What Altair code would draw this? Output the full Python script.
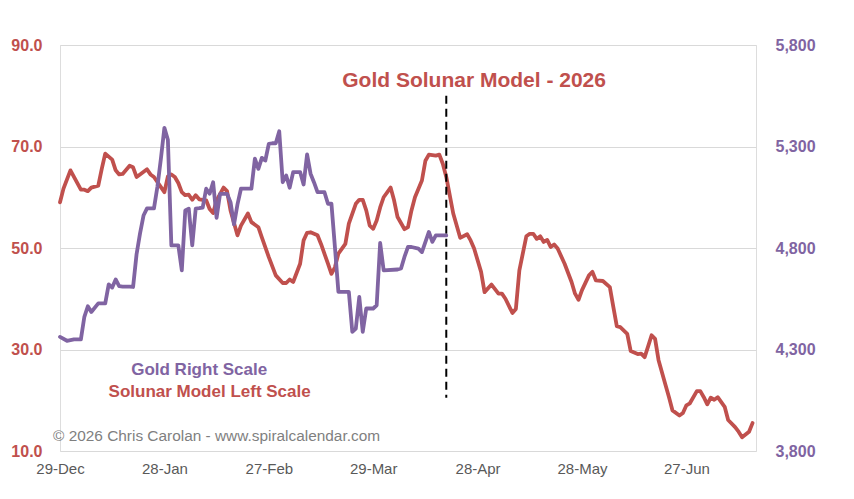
import altair as alt
import pandas as pd

RED = "#C0504D"
PURPLE = "#8064A2"
FONT = "Liberation Sans"

START = "2025-12-29"
END = "2026-07-17"

# Solunar model (left scale): day offset from START, value
solunar_day = [0, 1, 3, 6, 7, 8, 9, 11, 12, 13,
               15, 16, 17, 18, 20, 21, 22, 23, 25, 26,
               27, 29, 30, 31, 32, 33, 34, 35, 36, 37,
               38, 39, 40, 42, 43, 44, 45, 47, 48, 49,
               51, 52, 54, 55, 57, 58, 60, 62, 64, 65,
               66, 67, 69, 70, 71, 72, 74, 75, 77, 78,
               79, 80, 82, 83, 85, 86, 87, 88, 89, 90,
               91, 92, 93, 95, 96, 97, 99, 100, 101, 102,
               104, 105, 106, 108, 109, 110, 111, 113, 115, 117,
               118, 119, 121, 122, 124, 126, 127, 128, 130, 131,
               132, 134, 135, 136, 137, 138, 139, 140, 141, 142,
               143, 145, 147, 148, 149, 150, 152, 153, 154, 156,
               158, 159, 160, 161, 163, 164, 166, 167, 168, 169,
               170, 171, 172, 174, 175, 176, 178, 179, 180, 181,
               183, 184, 185, 186, 187, 188, 189, 191, 192, 194,
               195, 196, 198, 199]
solunar_value = [59.0, 61.7, 65.3, 61.5, 61.5, 61.2, 61.9, 62.3, 65.6, 68.6,
                 67.4, 65.3, 64.5, 64.6, 66.2, 65.9, 64.0, 64.5, 65.5, 64.5,
                 64.0, 62.0, 61.0, 64.1, 64.5, 64.0, 62.8, 61.0, 60.4, 60.5,
                 59.5, 60.4, 59.6, 59.4, 57.7, 56.9, 59.4, 61.9, 61.2, 57.4,
                 52.5, 54.4, 56.8, 55.1, 54.1, 52.1, 48.2, 44.6, 43.1, 43.1,
                 43.8, 43.3, 46.9, 51.5, 53.0, 53.1, 52.5, 50.8, 46.9, 44.9,
                 46.2, 48.9, 50.8, 54.8, 58.7, 59.5, 59.5, 57.4, 54.4, 53.8,
                 55.4, 58.0, 60.0, 61.9, 59.4, 56.1, 53.7, 54.1, 57.4, 60.0,
                 63.3, 67.2, 68.4, 68.2, 68.4, 66.6, 64.0, 56.8, 52.0, 52.7,
                 51.5, 49.9, 45.3, 41.3, 42.8, 41.0, 41.0, 40.0, 37.2, 38.0,
                 45.6, 52.3, 52.8, 52.8, 51.8, 52.3, 51.2, 51.6, 50.2, 50.7,
                 49.9, 46.9, 43.3, 41.0, 39.8, 41.7, 44.6, 45.3, 43.6, 43.5,
                 42.3, 38.4, 34.6, 34.4, 33.1, 29.7, 29.1, 29.2, 28.5, 30.6,
                 32.8, 32.1, 27.9, 23.0, 20.6, 18.0, 17.0, 17.5, 19.0, 19.4,
                 21.8, 21.8, 20.6, 19.2, 20.5, 20.1, 20.6, 18.7, 16.1, 14.7,
                 13.8, 12.7, 13.8, 15.5]

# Gold (right scale)
gold_day = [0, 2, 4, 6, 7, 8, 9, 11, 13, 14,
            15, 16, 17, 18, 20, 21, 22, 23, 24, 25,
            27, 28, 29, 30, 31, 32, 33, 34, 35, 36,
            37, 38, 39, 40, 41, 42, 43, 44, 45, 46,
            47, 48, 49, 50, 51, 52, 53, 55, 56, 57,
            58, 59, 60, 61, 62, 63, 64, 65, 66, 67,
            68, 69, 70, 71, 72, 73, 74, 76, 77, 78,
            79, 80, 83, 84, 85, 86, 87, 88, 90, 91,
            92, 93, 97, 98, 99, 100, 101, 103, 104, 106,
            107, 108, 111]
gold_value = [4362, 4343, 4350, 4350, 4461, 4513, 4485, 4527, 4527, 4621,
              4605, 4645, 4612, 4610, 4610, 4608, 4769, 4872, 4960, 4995,
              4995, 5103, 5241, 5392, 5333, 4813, 4813, 4813, 4690, 4985,
              4994, 4813, 4994, 4996, 4999, 5092, 5067, 5124, 4949, 5067,
              5067, 5067, 5026, 4916, 5015, 5092, 5092, 5092, 5240, 5190,
              5244, 5231, 5313, 5316, 5316, 5375, 5124, 5157, 5097, 5174,
              5174, 5174, 5113, 5261, 5166, 5123, 5075, 5075, 5018, 5018,
              4805, 4584, 4584, 4387, 4403, 4559, 4387, 4502, 4502, 4518,
              4825, 4690, 4694, 4699, 4757, 4805, 4805, 4797, 4780, 4879,
              4830, 4862, 4862]

x_tick_dates = ["2025-12-29", "2026-01-28", "2026-02-27", "2026-03-29",
                "2026-04-28", "2026-05-28", "2026-06-27"]
left_ticks = [10, 30, 50, 70, 90]
right_ticks = [3800, 4300, 4800, 5300, 5800]
model_date = "2026-04-19"

TITLE = "Gold Solunar Model - 2026"
GOLD_NOTE = "Gold Right Scale"
SOLUNAR_NOTE = "Solunar Model Left Scale"
COPYRIGHT = "\u00a9 2026 Chris Carolan - www.spiralcalendar.com"


def to_dates(days):
    base = pd.Timestamp(START)
    return [(base + pd.Timedelta(days=d)).strftime("%Y-%m-%d") for d in days]


def dt(s):
    t = pd.Timestamp(s)
    return alt.DateTime(year=t.year, month=t.month, date=t.day, utc=True)


red_df = pd.DataFrame({"date": to_dates(solunar_day), "v": solunar_value})
gold_df = pd.DataFrame({"date": to_dates(gold_day), "g": gold_value})

x_enc = alt.X(
    "date:T",
    scale=alt.Scale(type="utc", domain=[dt(START), dt(END)]),
    axis=alt.Axis(values=[dt(s) for s in x_tick_dates],
                  labelExpr="utcFormat(datum.value, '%d-%b')",
                  title=None, grid=False, domain=False,
                  ticks=False, labelFlush=False, labelPadding=10,
                  labelFontSize=15, labelColor="#595959", labelFont=FONT),
)

y_left = alt.Y(
    "v:Q",
    scale=alt.Scale(domain=[10, 90], nice=False, zero=False),
    axis=alt.Axis(values=left_ticks, labelExpr="format(datum.value, '.1f')",
                  title=None, orient="left",
                  grid=True, gridColor="#D9D9D9", gridWidth=1, domain=False,
                  ticks=False, labelPadding=18, labelFontSize=16,
                  labelFontWeight="bold", labelColor=RED, labelFont=FONT,
                  labelFlush=False),
)

y_right = alt.Y(
    "g:Q",
    scale=alt.Scale(domain=[3800, 5800], nice=False, zero=False),
    axis=alt.Axis(values=right_ticks, labelExpr="format(datum.value, ',')",
                  title=None, orient="right",
                  grid=False, domain=False, ticks=False, labelPadding=19,
                  labelFontSize=16, labelFontWeight="bold",
                  labelColor=PURPLE, labelFont=FONT, labelFlush=False),
)

red_line = alt.Chart(red_df).mark_line(
    color=RED, strokeWidth=3.8, strokeJoin="round", strokeCap="round"
).encode(x=x_enc, y=y_left)

rule_df = pd.DataFrame({"date": [model_date], "v": [80.0], "v2": [20.5]})
dash_rule = alt.Chart(rule_df).mark_rule(
    color="black", strokeWidth=2, strokeDash=[8, 5]
).encode(x=x_enc, y=y_left, y2="v2:Q")


def note(text, date, v, size, color, weight, align):
    df = pd.DataFrame({"date": [date], "v": [v], "t": [text]})
    return alt.Chart(df).mark_text(
        font=FONT, fontSize=size, color=color, fontWeight=weight,
        align=align, baseline="middle"
    ).encode(x=x_enc, y=y_left, text="t:N")


title_txt = note(TITLE, "2026-04-27", 83.0, 21, RED, "bold", "center")
gold_txt = note(GOLD_NOTE, "2026-02-07", 25.9, 17, PURPLE, "bold", "center")
sol_txt = note(SOLUNAR_NOTE, "2026-02-10", 21.55, 17, RED, "bold", "center")
copy_txt = note(COPYRIGHT, "2025-12-27", 12.9, 15.4, "#7F7F7F", "normal", "left")

left_group = alt.layer(red_line, dash_rule, title_txt, gold_txt, sol_txt, copy_txt)

gold_line = alt.Chart(gold_df).mark_line(
    color=PURPLE, strokeWidth=3.8, strokeJoin="round", strokeCap="round"
).encode(x=x_enc, y=y_right)

chart = alt.layer(left_group, gold_line).resolve_scale(
    y="independent"
).properties(
    width=696, height=406,
    padding={"left": 52, "top": 37, "right": 90, "bottom": 40},
    autosize=alt.AutoSizeParams(type="none"),
    background="white",
).configure_view(
    stroke="transparent", strokeWidth=0, strokeOpacity=0
).configure_axis(
    domain=False, domainOpacity=0
).configure(font=FONT)

chart.save("out.html", embed_options={"renderer": "svg", "actions": False})
